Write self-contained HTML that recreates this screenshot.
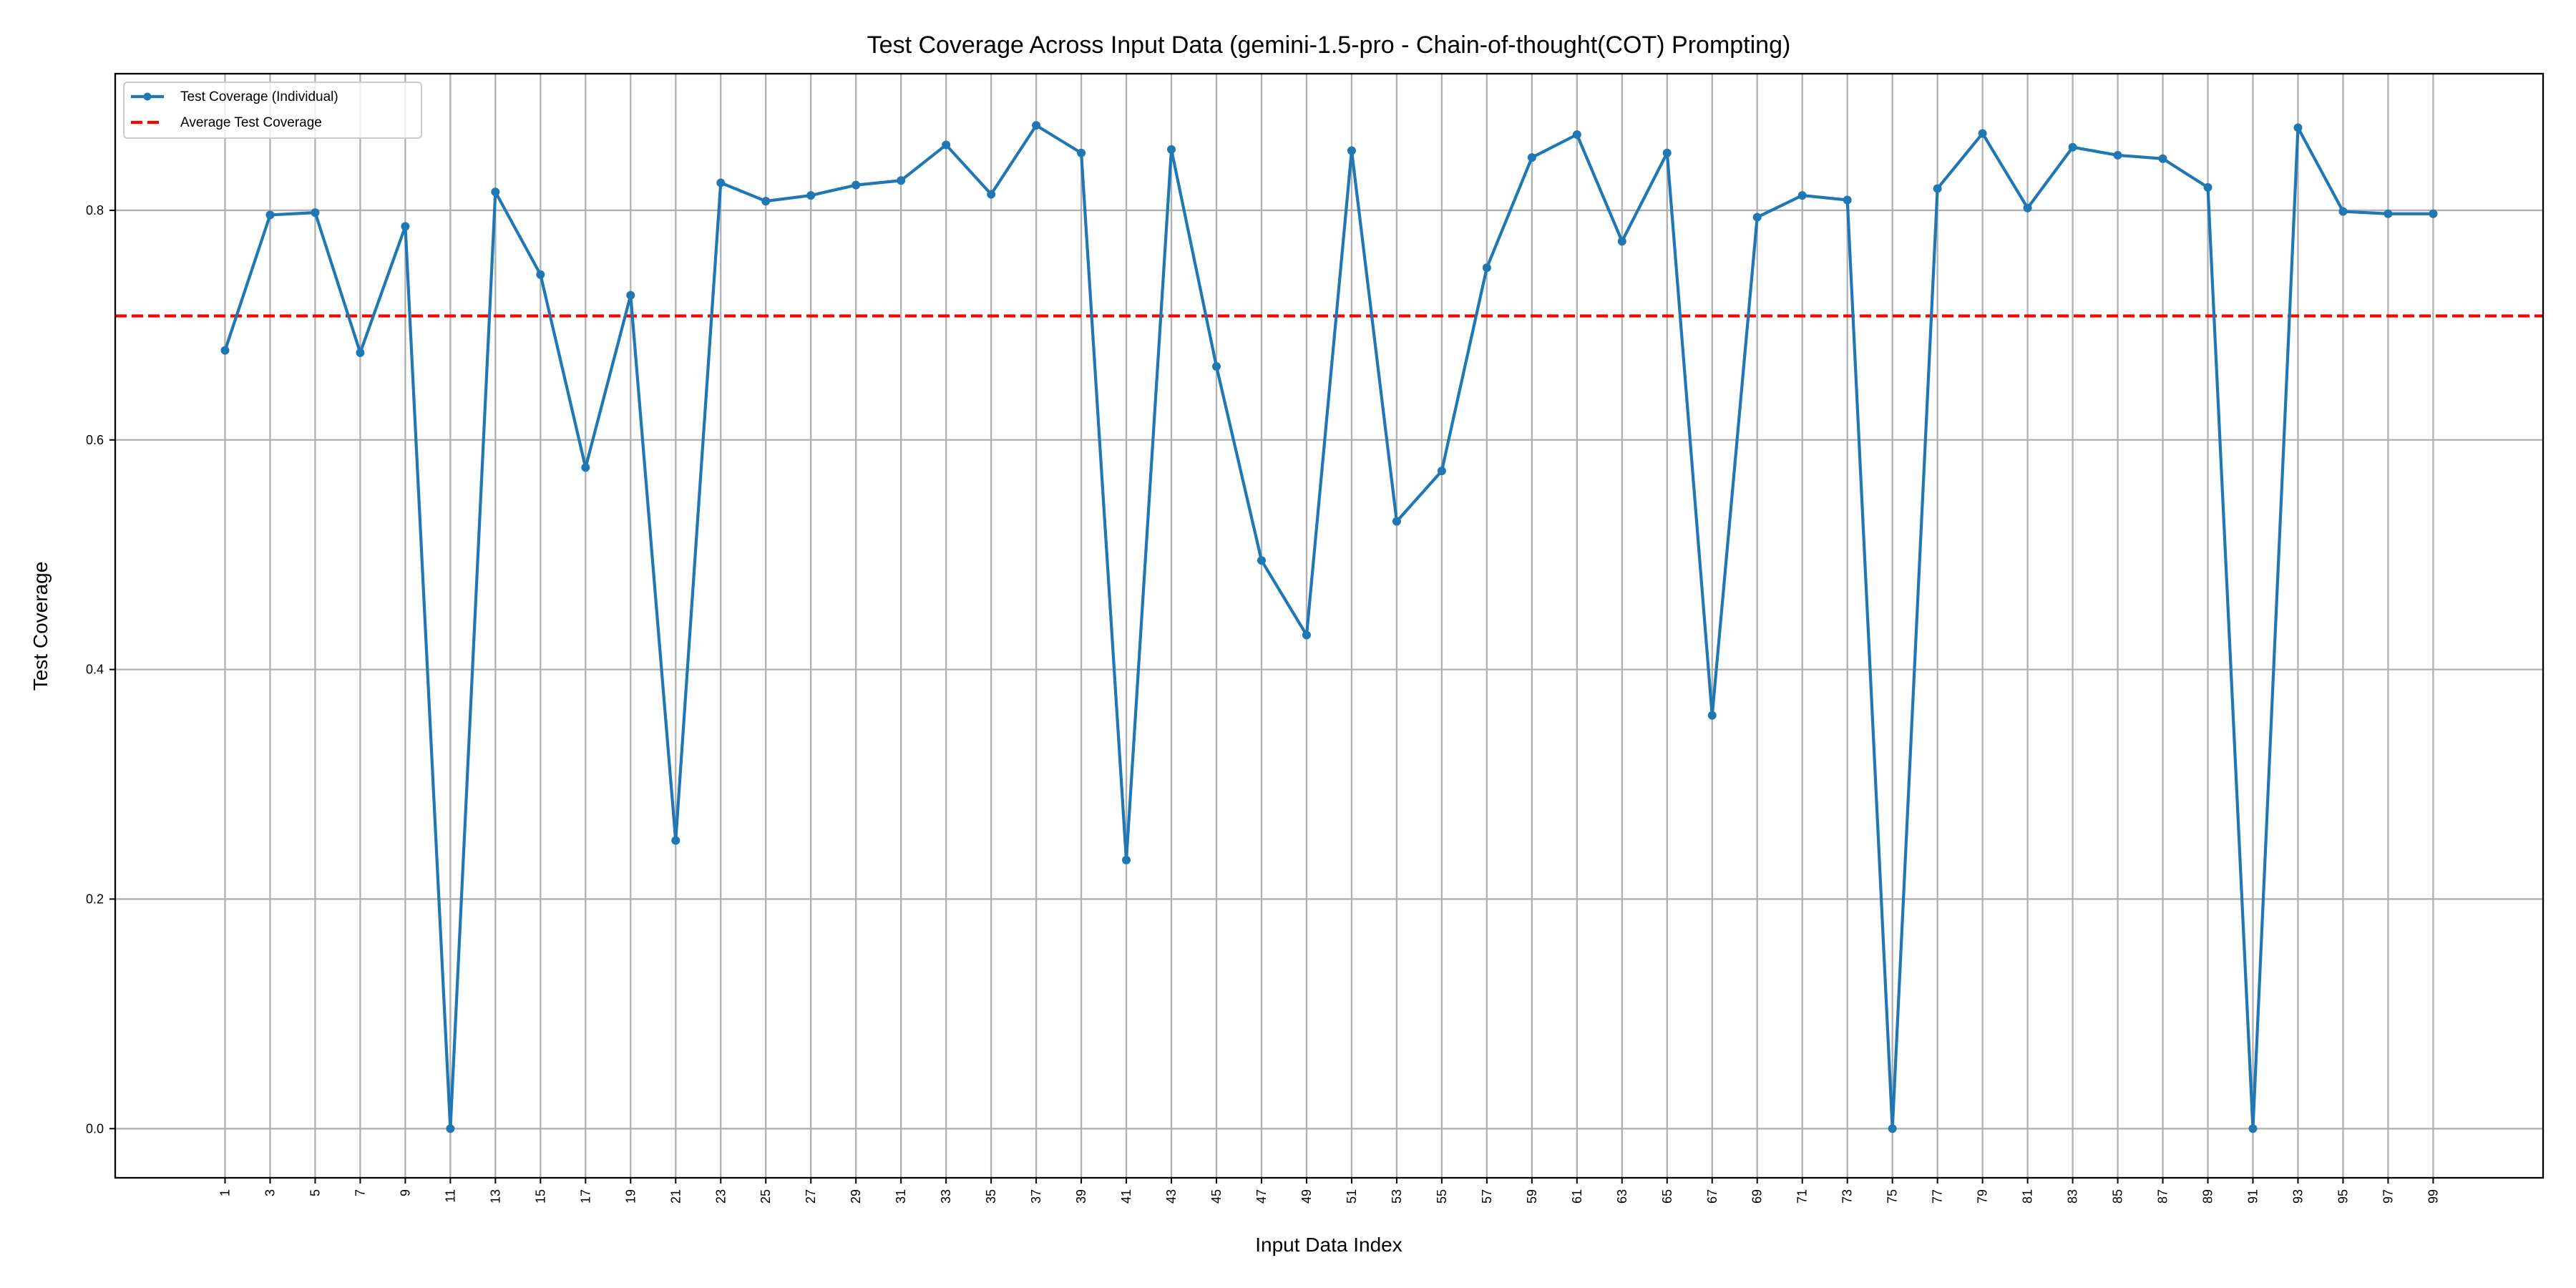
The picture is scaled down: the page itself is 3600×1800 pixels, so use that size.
<!DOCTYPE html>
<html><head><meta charset="utf-8"><style>
html,body{margin:0;padding:0;background:#fff;}
svg{display:block;font-family:"Liberation Sans","DejaVu Sans",sans-serif;}
</style></head><body>
<svg id="chart" width="3600" height="1800" viewBox="0 0 3600 1800">
<rect width="3600" height="1800" fill="#fff"/>
<text x="1857" y="74" font-size="34" text-anchor="middle">Test Coverage Across Input Data (gemini-1.5-pro - Chain-of-thought(COT) Prompting)</text>
<g id="grid"></g>
<g id="avg"></g>
<g id="series"></g>
<rect x="161" y="103" width="3393" height="1543" fill="none" stroke="#000" stroke-width="2.3"/>
<g id="ticks"></g>
<text x="1857" y="1749" font-size="28" text-anchor="middle">Input Data Index</text>
<text x="66" y="875" font-size="28" text-anchor="middle" transform="rotate(-90 66 875)">Test Coverage</text>
<g>
<rect x="173" y="115" width="416" height="78" rx="5" fill="#fff" fill-opacity="0.8" stroke="#ccc" stroke-width="2"/>
<line x1="183" y1="135" x2="229" y2="135" stroke="#1f77b4" stroke-width="4.2"/>
<circle cx="206" cy="135" r="5.5" fill="#1f77b4"/>
<text x="252" y="141" font-size="19">Test Coverage (Individual)</text>
<line x1="183" y1="171" x2="229" y2="171" stroke="#ff0000" stroke-width="4.2" stroke-dasharray="16,7"/>
<text x="252" y="177" font-size="19">Average Test Coverage</text>
</g>
</svg>
<script>
const indices = [1,3,5,7,9,11,13,15,17,19,21,23,25,27,29,31,33,35,37,39,41,43,45,47,49,51,53,55,57,59,61,63,65,67,69,71,73,75,77,79,81,83,85,87,89,91,93,95,97,99];
const coverage = [0.678,0.796,0.798,0.676,0.786,0.0,0.816,0.744,0.576,0.726,0.251,0.824,0.808,0.813,0.822,0.826,0.857,0.814,0.874,0.850,0.234,0.853,0.664,0.495,0.430,0.852,0.529,0.573,0.750,0.846,0.866,0.773,0.850,0.360,0.794,0.813,0.809,0.0,0.819,0.867,0.802,0.855,0.848,0.845,0.820,0.0,0.872,0.799,0.797,0.797];
const averageCoverage = 0.708;
const yTicks = [0.0,0.2,0.4,0.6,0.8];
const yTickLabels = ["0.0","0.2","0.4","0.6","0.8"];

const NS = "http://www.w3.org/2000/svg";
const L=161, R=3554, T=103, B=1646;
function xs(i){ return 314.5 + (i-1)*(3400.4-314.5)/98; }
function ys(v){ return 1577.3 - v*1604.2; }
function mk(tag, attrs, parent){ const e=document.createElementNS(NS,tag); for(const k in attrs) e.setAttribute(k,attrs[k]); parent.appendChild(e); return e; }
const grid=document.getElementById('grid'), ticks=document.getElementById('ticks');
indices.forEach(i=>{
  const x=xs(i);
  const g=mk('line',{x1:x,x2:x,y1:T,y2:B,stroke:'#b0b0b0','stroke-width':2.3},grid);
  
  
  const tk=mk('line',{x1:x,x2:x,y1:B,y2:B+8,stroke:'#000','stroke-width':2},ticks);
  
  
  const t=mk('text',{x:x+6,y:B+16,'font-size':18,'text-anchor':'end',transform:`rotate(-90 ${x+6} ${B+16})`},ticks);
  t.textContent=String(i);
  
  
});
yTicks.forEach((v,k)=>{
  const y=ys(v);
  const g=mk('line',{x1:L,x2:R,y1:y,y2:y,stroke:'#b0b0b0','stroke-width':2.3},grid);
  
  
  const tk=mk('line',{x1:L-8,x2:L,y1:y,y2:y,stroke:'#000','stroke-width':2},ticks);
  
  
  const t=mk('text',{x:L-16,y:y+6,'font-size':18,'text-anchor':'end'},ticks);
  t.textContent=yTickLabels[k];
  
  
});
const avg=mk('line',{x1:L,x2:R,y1:ys(averageCoverage),y2:ys(averageCoverage),stroke:'#ff0000','stroke-width':4.2,'stroke-dasharray':'16,7'},document.getElementById('avg'));


const s=document.getElementById('series');
const pl=mk('polyline',{points:indices.map((i,k)=>xs(i)+','+ys(coverage[k])).join(' '),fill:'none',stroke:'#1f77b4','stroke-width':4.2,'stroke-linejoin':'round'},s);


indices.forEach((i,k)=>{
  const c=mk('circle',{cx:xs(i),cy:ys(coverage[k]),r:6,fill:'#1f77b4'},s);
  
  
});
</script>
</body></html>
